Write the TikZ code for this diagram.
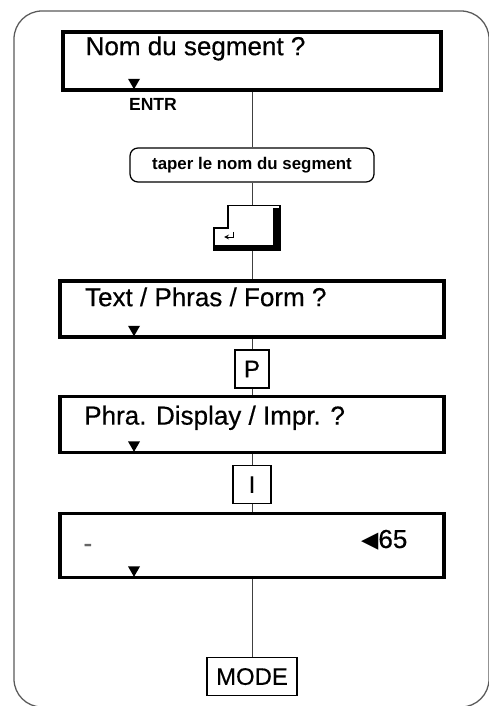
\documentclass[tikz,border=0pt]{standalone}
\usepackage{fontspec}
\setmainfont{Liberation Sans}
\newfontfamily\dispfont{Liberation Sans}[FakeBold=0.5]
\newfontfamily\symbfont{DejaVu Sans}

\tikzstyle{display} = [rectangle, minimum width=9.6cm, minimum height=1.4cm, draw=black, line width=2.3pt, fill=white]
\tikzstyle{displaytext} = [anchor=base west, inner sep=0pt, font=\dispfont\fontsize{18.5}{20}\selectfont]
\tikzstyle{keybox} = [rectangle, minimum width=0.95cm, minimum height=0.95cm, draw=black, line width=0.9pt, fill=white, font=\dispfont\fontsize{17}{19}\selectfont]
\tikzstyle{action} = [rectangle, rounded corners=0.2cm, minimum width=6.1cm, minimum height=0.85cm, draw=black, line width=0.9pt, fill=white, font=\bfseries\fontsize{12}{14}\selectfont]
\tikzstyle{line} = [line width=0.7pt, black!75]

\begin{document}
\begin{tikzpicture}[node distance = 1.5cm, auto]
	\useasboundingbox (0,0) rectangle (12.2,-17.65);
	% Frame
	\draw [line width=0.9pt, black!65, rounded corners=0.7cm] (0.35,-0.275) rectangle (12.225,-17.675);
	% Place nodes
	\node [display, minimum width=9.45cm, minimum height=1.45cm] (nom) at (6.3,-1.525) {};
	\node [action, below of=nom, yshift=-1.1cm] (taper) {taper le nom du segment};
	\node [minimum width=1.9cm, minimum height=1.125cm, inner sep=0pt, below of=taper, yshift=-0.075cm] (enter) {};
	\node [display, below of=enter, yshift=-0.525cm] (texte) {};
	\node [keybox, minimum width=0.85cm, below of=texte, yshift=0cm] (P) {P};
	\node [display, below of=P, yshift=0.11cm] (affich) {};
	\node [keybox, below of=affich] (I) {I};
	\node [display, minimum height=1.6cm, below of=I, yshift=-0.025cm] (saisie) {};
	\node [keybox, minimum width=2.25cm, below of=saisie, yshift=-1.775cm] (MODE) {MODE};
	% Texts
	\node [font=\bfseries\fontsize{12.5}{14}\selectfont, below of=nom, xshift=-2.475cm, yshift=0.425cm] (ENTR) {ENTR};
	\node [displaytext] (nomtext) at ([xshift=0.6cm, yshift=-0.62cm]nom.north west) {Nom du segment ?};
	\node [displaytext] (textetext) at ([xshift=0.66cm, yshift=-0.67cm]texte.north west) {Text / Phras / Form ?};
	\node [displaytext] (affichtext) at ([xshift=0.64cm, yshift=-0.74cm]affich.north west) {Phra. Display / Impr. ?};
	\node [displaytext, black!60] (tiret) at ([xshift=0.62cm, yshift=-1.0cm]saisie.north west) {-};
	\node [displaytext, anchor=base east] (compte) at ([xshift=-0.95cm, yshift=-0.9cm]saisie.north east) {{\symbfont\fontsize{16}{17}\selectfont ◀}65};
	% Return key
	\begin{scope}[shift={(enter.center)}, x=0.025cm, y=-0.025cm]
		\draw [line width=0.8pt] (-24,-22.5) -- (28,-22.5) -- (28,22.5) -- (-38,22.5) -- (-38,0) -- (-24,0) -- cycle;
		\fill (21,-20.5) rectangle (28,22.5);
		\fill (-38,17) rectangle (28,22.5);
		\draw [line width=0.6pt, ->, >=stealth] (-19,4) -- (-19,9) -- (-28,9);
	\end{scope}
	% Cursors
	\foreach \b in {nom, texte, affich, saisie}
		\fill ([xshift=-2.95cm, yshift=0.06cm]\b.south) -- ++(-0.15,0.26) -- ++(0.3,0) -- cycle;
	% Draw edges
	\draw [line] (nom) -- (taper);
	\draw [line] (taper) -- (enter);
	\draw [line] (enter) -- (texte);
	\draw [line] (texte) -- (P);
	\draw [line] (P) -- (affich);
	\draw [line] (affich) -- (I);
	\draw [line] (I) -- (saisie);
	\draw [line] (saisie) -- (MODE);
\end{tikzpicture}
\end{document}
